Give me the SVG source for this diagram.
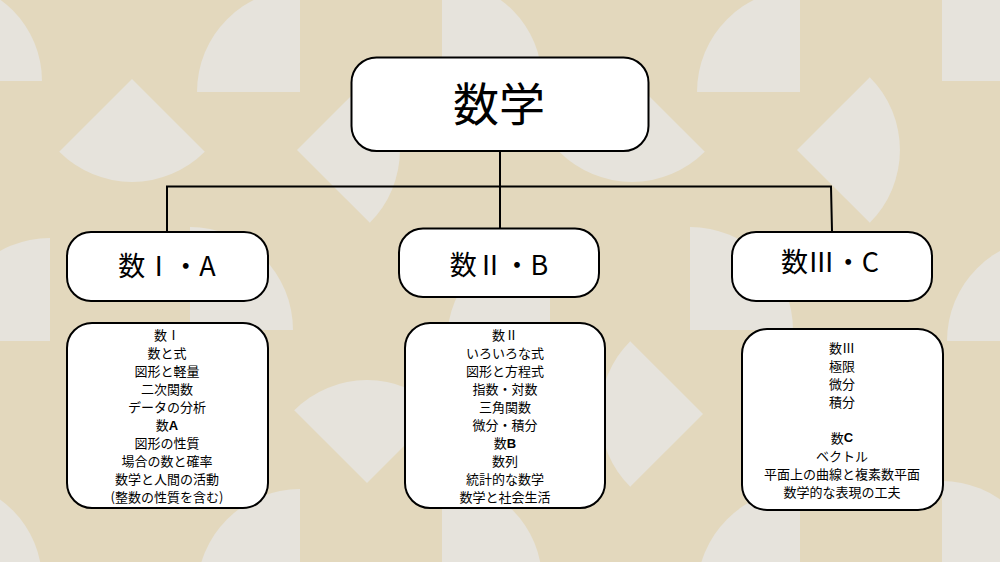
<svg xmlns="http://www.w3.org/2000/svg" xmlns:xlink="http://www.w3.org/1999/xlink" width="1000" height="562" viewBox="0 0 1000 562">
<style>
.bgs{fill:#E6E3DC}
.box{fill:#FFFFFF;stroke:#000;stroke-width:2}
.con{fill:none;stroke:#000;stroke-width:2}
.t{font-family:"Noto Sans CJK JP","Noto Sans CJK SC",sans-serif;fill:#000;text-anchor:middle;dominant-baseline:central}
.root{font-size:46px}
.hd{font-size:27px}
.dt{font-size:13px}
.b{font-family:"Liberation Sans",Arial,sans-serif;font-weight:900}
</style>
<defs>
<g id="tile">
<path class="bgs" d="M442 81 V-19 A100 100 0 0 1 542 81 Z"/>
<path class="bgs" d="M300 92 H197 A103 103 0 0 1 300 -11 Z"/>
<path class="bgs" d="M132 79 L59.2 151.8 A103 103 0 0 0 204.8 151.8 Z"/>
<path class="bgs" d="M297 150 L369.8 77.2 A103 103 0 0 1 369.8 222.8 Z"/>
<path class="bgs" d="M50 341 H-53 A103 103 0 0 1 50 238 Z"/>
<path class="bgs" d="M190 330 V227 A103 103 0 0 1 293 330 Z"/>
<path class="bgs" d="M367 483 L294.2 410.2 A103 103 0 0 1 439.8 410.2 Z"/>
<path class="bgs" d="M203 414 L130.2 341.2 A103 103 0 0 0 130.2 486.8 Z"/>
</g>
</defs>
<g id="background">
<rect x="0" y="0" width="1000" height="562" fill="#E3D8BD"/>
<use xlink:href="#tile" x="-500" y="0"/>
<use xlink:href="#tile" x="0" y="0"/>
<use xlink:href="#tile" x="500" y="0"/>
<use xlink:href="#tile" x="1000" y="0"/>
<use xlink:href="#tile" x="-500" y="500"/>
<use xlink:href="#tile" x="0" y="500"/>
<use xlink:href="#tile" x="500" y="500"/>
<use xlink:href="#tile" x="1000" y="500"/>
</g>
<g id="connectors">
<path class="con" d="M500 151 V186.5 M167 231 V186.5 H831 L832 231 M500 186.5 V228"/>
</g>
<g id="root">
<rect class="box" x="351.5" y="57.5" width="297" height="93.5" rx="25"/>
<text class="t root" x="499" y="101">数学</text>
</g>
<g id="h1">
<rect class="box" x="67" y="232" width="201" height="69" rx="24"/>
<text class="t hd" x="167" y="264">数Ⅰ・A</text>
</g>
<g id="h2">
<rect class="box" x="399" y="228.5" width="200" height="68.5" rx="24"/>
<text class="t hd" x="499" y="263">数Ⅱ・B</text>
</g>
<g id="h3">
<rect class="box" x="732" y="232" width="200" height="69" rx="24"/>
<text class="t hd" x="830" y="260">数Ⅲ・C</text>
</g>
<g id="d1">
<rect class="box" x="67" y="323" width="201" height="185" rx="25"/>
<text class="t dt" x="167" y="334">数Ⅰ</text>
<text class="t dt" x="167" y="352.1">数と式</text>
<text class="t dt" x="167" y="370.2">図形と軽量</text>
<text class="t dt" x="167" y="388.3">二次関数</text>
<text class="t dt" x="167" y="406.4">データの分析</text>
<text class="t dt" x="167" y="424.5">数<tspan class="b">A</tspan></text>
<text class="t dt" x="167" y="442.6">図形の性質</text>
<text class="t dt" x="167" y="460.7">場合の数と確率</text>
<text class="t dt" x="167" y="478.8">数学と人間の活動</text>
<text class="t dt" x="167" y="496.9">(整数の性質を含む)</text>
</g>
<g id="d2">
<rect class="box" x="405" y="323" width="200" height="185" rx="25"/>
<text class="t dt" x="505" y="334">数Ⅱ</text>
<text class="t dt" x="505" y="352.1">いろいろな式</text>
<text class="t dt" x="505" y="370.2">図形と方程式</text>
<text class="t dt" x="505" y="388.3">指数・対数</text>
<text class="t dt" x="505" y="406.4">三角関数</text>
<text class="t dt" x="505" y="424.5">微分・積分</text>
<text class="t dt" x="505" y="442.6">数<tspan class="b">B</tspan></text>
<text class="t dt" x="505" y="460.7">数列</text>
<text class="t dt" x="505" y="478.8">統計的な数学</text>
<text class="t dt" x="505" y="496.9">数学と社会生活</text>
</g>
<g id="d3">
<rect class="box" x="742" y="329" width="201" height="181" rx="25"/>
<text class="t dt" x="842" y="347">数Ⅲ</text>
<text class="t dt" x="842" y="365">極限</text>
<text class="t dt" x="842" y="383">微分</text>
<text class="t dt" x="842" y="401">積分</text>
<text class="t dt" x="842" y="437">数<tspan class="b">C</tspan></text>
<text class="t dt" x="842" y="455">ベクトル</text>
<text class="t dt" x="842" y="473">平面上の曲線と複素数平面</text>
<text class="t dt" x="842" y="491">数学的な表現の工夫</text>
</g>
</svg>
